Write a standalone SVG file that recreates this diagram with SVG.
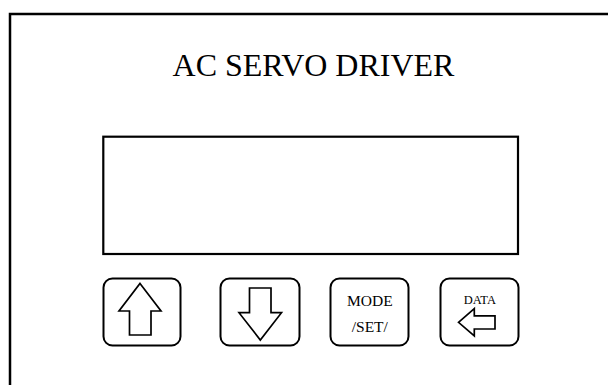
<svg xmlns="http://www.w3.org/2000/svg" width="608" height="385" viewBox="0 0 608 385">
<style>
.t{font-family:"Liberation Serif","Times New Roman",serif;fill:#000;text-anchor:middle}
.btn{fill:#fff;stroke:#000;stroke-width:2}
.ico{fill:#fff;stroke:#000;stroke-width:1.7;stroke-linejoin:miter}
</style>
<rect width="608" height="385" fill="#fff"/>
<g id="frame">
<path d="M10 390 V14 H615" fill="none" stroke="#000" stroke-width="2.5"/>
</g>
<g id="title"><text class="t" x="313.5" y="76" font-size="32">AC SERVO DRIVER</text></g>
<g id="display"><rect x="103.3" y="136.7" width="414.7" height="117.3" fill="#fff" stroke="#000" stroke-width="2.2"/></g>
<g id="btn-up">
<rect class="btn" x="103.5" y="278.5" width="77" height="67" rx="9"/>
<polygon class="ico" points="140,283.5 161,311 151,311 151,335 129.5,335 129.5,311 119,311"/>
</g>
<g id="btn-down">
<rect class="btn" x="220.5" y="278.5" width="79" height="67" rx="9"/>
<polygon class="ico" points="249.5,288 271,288 271,312.7 281.5,312.7 260.3,340 239,312.7 249.5,312.7"/>
</g>
<g id="btn-mode">
<rect class="btn" x="330.5" y="278.5" width="78" height="67" rx="9"/>
<text class="t" x="369.8" y="305.7" font-size="15.5">MODE</text>
<text class="t" x="369.8" y="331.7" font-size="15.5">/SET/</text>
</g>
<g id="btn-data">
<rect class="btn" x="440.5" y="278.5" width="78" height="67" rx="9"/>
<text class="t" x="479.8" y="304.3" font-size="12.5">DATA</text>
<polygon class="ico" points="458.5,322.3 474.3,308.5 474.3,315.8 495,315.8 495,329 474.3,329 474.3,336"/>
</g>
<g id="connectors"></g>
</svg>
